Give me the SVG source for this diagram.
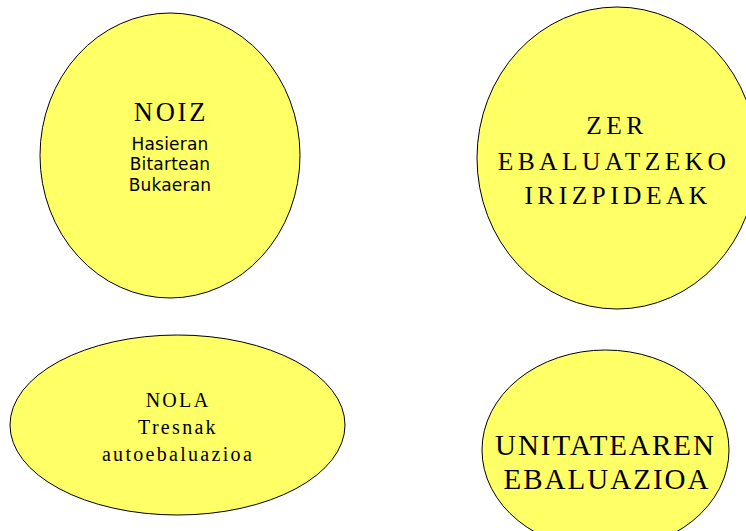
<svg xmlns="http://www.w3.org/2000/svg" width="746" height="531" viewBox="0 0 746 531">
<style>
.n{fill:#FFFF66;stroke:#000;stroke-width:1}
.s{font-family:"Liberation Serif","Times New Roman",serif;fill:#000;text-anchor:middle}
.a{font-family:"DejaVu Sans",Verdana,sans-serif;fill:#000;text-anchor:middle;font-size:17px;letter-spacing:0.2px}
</style>
<rect width="746" height="531" fill="#fff"/>
<g id="connectors"/>
<g id="noiz">
<ellipse class="n" cx="170" cy="155.5" rx="130" ry="142.5"/>
<text class="s" x="171" y="121" font-size="26.5" letter-spacing="2.8">NOIZ</text>
<text class="a" x="170" y="149.5">Hasieran</text>
<text class="a" x="170" y="170">Bitartean</text>
<text class="a" x="170" y="190.5">Bukaeran</text>
</g>
<g id="zer">
<ellipse class="n" cx="617" cy="158" rx="140" ry="151"/>
<text class="s" x="617" y="133.5" font-size="25.5" letter-spacing="4.4">ZER</text>
<text class="s" x="614" y="169.5" font-size="25.5" letter-spacing="4.4">EBALUATZEKO</text>
<text class="s" x="618" y="203.5" font-size="25.5" letter-spacing="4.4">IRIZPIDEAK</text>
</g>
<g id="nola">
<ellipse class="n" cx="177.5" cy="425" rx="167.5" ry="90"/>
<text class="s" x="178" y="407" font-size="20" letter-spacing="2.3">NOLA</text>
<text class="s" x="178" y="433.5" font-size="20" letter-spacing="2.3">Tresnak</text>
<text class="s" x="178" y="461" font-size="20" letter-spacing="2.3">autoebaluazioa</text>
</g>
<g id="unitatearen">
<ellipse class="n" cx="605.5" cy="450" rx="123.5" ry="100"/>
<text class="s" x="605.5" y="454.5" font-size="29" letter-spacing="2">UNITATEAREN</text>
<text class="s" x="607" y="488.5" font-size="29" letter-spacing="2">EBALUAZIOA</text>
</g>
</svg>
